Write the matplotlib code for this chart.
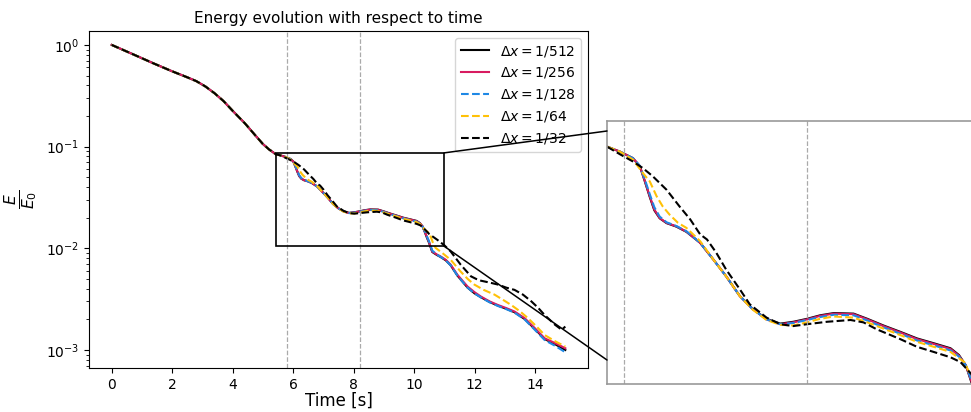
import matplotlib
matplotlib.use("Agg")
import matplotlib.pyplot as plt
from matplotlib.patches import Rectangle, ConnectionPatch
from matplotlib.ticker import NullLocator

# ---- data ----
t_common = [0.0, 0.7, 1.4, 2.0, 2.5, 2.8, 3.1, 3.4, 3.7, 4.0, 4.4, 4.7, 5.0,
            5.2, 5.43, 5.58]
E_common = [1.0, 0.81, 0.655, 0.55, 0.48, 0.44, 0.39, 0.335, 0.28, 0.225, 0.17,
            0.134, 0.106, 0.094, 0.084, 0.082]

t_256 = [5.75, 5.92, 6.01, 6.07, 6.14, 6.20, 6.27, 6.36, 6.49, 6.62, 6.80, 6.97,
         7.14, 7.32, 7.49, 7.67, 7.85, 8.02, 8.2, 8.37, 8.55, 8.81, 8.99, 9.2,
         9.42, 9.64, 9.86, 10.08, 10.19, 10.28, 10.34, 10.42, 10.49, 10.6, 10.75,
         10.88, 11.05, 11.21, 11.43, 11.6, 11.77, 12.0, 12.21, 12.5, 12.77, 13.05,
         13.32, 13.66, 13.99, 14.32, 14.66, 15.0]
E_256 = [0.079, 0.0753, 0.071, 0.0643, 0.0569, 0.0516, 0.0485, 0.0468, 0.0456,
         0.0439, 0.0404, 0.0358, 0.0316, 0.0273, 0.0248, 0.023, 0.0222, 0.0225,
         0.023, 0.0236, 0.024, 0.0239, 0.023, 0.0219, 0.0209, 0.0199, 0.0192,
         0.0185, 0.0176, 0.0164, 0.0149, 0.0130, 0.0116, 0.0093, 0.0087, 0.0083,
         0.0077, 0.0069, 0.0055, 0.0048, 0.0042, 0.0037, 0.00335, 0.0030, 0.00277,
         0.00258, 0.00239, 0.00205, 0.00164, 0.0013, 0.00117, 0.00104]

t_512 = t_256
E_512 = [0.079, 0.0753, 0.071, 0.0641, 0.0566, 0.0513, 0.0484, 0.0467, 0.0455,
         0.0438, 0.0404, 0.0358, 0.0316, 0.0273, 0.0248, 0.0231, 0.0223, 0.0226,
         0.0231, 0.0237, 0.0241, 0.0240, 0.0231, 0.0220, 0.0210, 0.0200, 0.0193,
         0.0186, 0.0177, 0.0164, 0.0148, 0.0128, 0.0114, 0.0092, 0.0086, 0.0082,
         0.0076, 0.0068, 0.0054, 0.0047, 0.0041, 0.0036, 0.00330, 0.00296, 0.00273,
         0.00254, 0.00235, 0.00201, 0.00161, 0.00128, 0.00114, 0.00100]

t_128 = t_256
E_128 = [0.079, 0.0753, 0.0712, 0.0650, 0.0578, 0.0525, 0.0490, 0.0470, 0.0457,
         0.0440, 0.0404, 0.0358, 0.0316, 0.0273, 0.0248, 0.0230, 0.0222, 0.0224,
         0.0229, 0.0234, 0.0238, 0.0237, 0.0228, 0.0217, 0.0207, 0.0197, 0.0190,
         0.0183, 0.0175, 0.0164, 0.0150, 0.0132, 0.0118, 0.0095, 0.0087, 0.0082,
         0.0076, 0.0068, 0.0054, 0.0047, 0.0041, 0.0036, 0.00328, 0.00294, 0.00271,
         0.00252, 0.00233, 0.00199, 0.00158, 0.00125, 0.00110, 0.00095]

t_64 = [5.75, 5.92, 6.05, 6.14, 6.23, 6.31, 6.40, 6.51, 6.62, 6.80, 6.97, 7.14,
        7.32, 7.49, 7.67, 7.85, 8.02, 8.2, 8.37, 8.55, 8.81, 8.99, 9.2, 9.42,
        9.64, 9.86, 10.08, 10.26, 10.34, 10.45, 10.54, 10.62, 10.71, 10.95, 11.21,
        11.54, 11.77, 11.99, 12.3, 12.66, 12.95, 13.21, 13.5, 13.77, 14.05, 14.32,
        14.66, 15.0]
E_64 = [0.079, 0.0745, 0.0675, 0.0635, 0.0569, 0.0528, 0.0497, 0.0468, 0.0451,
        0.0409, 0.0358, 0.0316, 0.0273, 0.0247, 0.0229, 0.0221, 0.0220, 0.0225,
        0.0231, 0.0235, 0.0233, 0.0225, 0.0215, 0.0205, 0.0195, 0.0188, 0.0181,
        0.0168, 0.0153, 0.0145, 0.0132, 0.0114, 0.0101, 0.0089, 0.0077, 0.0059,
        0.0050, 0.0044, 0.0039, 0.0035, 0.0031, 0.00277, 0.0024, 0.00205, 0.0017,
        0.0014, 0.00122, 0.00108]

t_32 = [5.75, 5.92, 6.05, 6.18, 6.36, 6.53, 6.67, 6.80, 6.89, 7.01, 7.14, 7.32,
        7.45, 7.67, 7.85, 8.02, 8.2, 8.46, 8.77, 8.94, 9.11, 9.42, 9.64, 9.86,
        10.08, 10.21, 10.34, 10.5, 10.77, 11.0, 11.21, 11.54, 11.88, 12.05, 12.21,
        12.5, 12.77, 13.05, 13.32, 13.6, 13.88, 14.1, 14.32, 14.66, 14.88, 15.0]
E_32 = [0.0775, 0.0735, 0.070, 0.0659, 0.0597, 0.0528, 0.048, 0.043, 0.0414,
        0.0376, 0.0332, 0.0287, 0.0257, 0.0233, 0.0222, 0.0219, 0.0222, 0.0226,
        0.0229, 0.0225, 0.0214, 0.0199, 0.0188, 0.0181, 0.0174, 0.0168, 0.0155,
        0.0138, 0.0121, 0.0107, 0.0093, 0.0069, 0.0053, 0.0050, 0.0048, 0.0046,
        0.0044, 0.0041, 0.0039, 0.0035, 0.0030, 0.0026, 0.0022, 0.00177, 0.00158,
        0.0017]

labels = [r"$\Delta x = 1/512$", r"$\Delta x = 1/256$", r"$\Delta x = 1/128$",
          r"$\Delta x = 1/64$", r"$\Delta x = 1/32$"]
colors = ["black", "#D81B60", "#1E88E5", "#FFC107", "black"]
styles = ["-", "-", "--", "--", "--"]
series_t = [t_512, t_256, t_128, t_64, t_32]
series_E = [E_512, E_256, E_128, E_64, E_32]

vlines = [5.8, 8.2]
zoom_x = (5.42, 10.99)
zoom_y = (0.0105, 0.0867)
inset_xlim = (5.58, 10.40)
inset_ylim = (0.0143, 0.099)

# ---- figure ----
W, H = 971, 412
fig = plt.figure(figsize=(W / 100, H / 100), dpi=100)
ax = fig.add_axes([89 / W, 1 - 368 / H, 499 / W, 337 / H])
axins = fig.add_axes([607 / W, 1 - 384 / H, 368 / W, 263 / H])

for a in (ax, axins):
    for tt, EE, c, ls, lab in zip(series_t, series_E, colors, styles, labels):
        a.plot(t_common + list(tt), E_common + list(EE), color=c, ls=ls,
               lw=1.5, label=lab)
    for v in vlines:
        a.axvline(v, color="#aaaaaa", ls="--", lw=0.9)
    a.set_yscale("log")

ax.set_xlim(-0.75, 15.75)
ax.set_ylim(6.65e-4, 1.37)
ax.set_xticks([0, 2, 4, 6, 8, 10, 12, 14])
ax.set_title("Energy evolution with respect to time", fontsize=11)
ax.set_xlabel("Time [s]", fontsize=12, labelpad=0)
ax.set_ylabel(r"$\frac{E}{E_0}$", fontsize=16)
ax.legend(loc="upper right", fontsize=10)

axins.set_xlim(*inset_xlim)
axins.set_ylim(*inset_ylim)
axins.set_xticks([])
axins.set_yticks([])
axins.yaxis.set_minor_locator(NullLocator())
for s in axins.spines.values():
    s.set_color("#999999")
    s.set_linewidth(1.2)

ax.add_patch(Rectangle((zoom_x[0], zoom_y[0]), zoom_x[1] - zoom_x[0],
                       zoom_y[1] - zoom_y[0], fill=False, ec="black", lw=1.2,
                       zorder=5))

for ya, yb in [(zoom_y[1], (384 - 131) / 263), (zoom_y[0], (384 - 360) / 263)]:
    con = ConnectionPatch(xyA=(zoom_x[1], ya), coordsA=ax.transData,
                          xyB=(0, yb), coordsB=axins.transAxes,
                          color="black", lw=1.1)
    fig.add_artist(con)

fig.savefig("out.png", dpi=100)
